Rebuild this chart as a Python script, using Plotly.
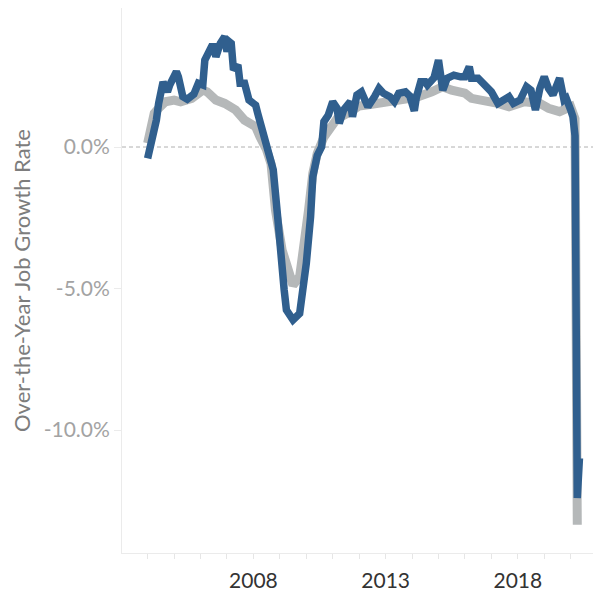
import plotly.graph_objects as go

# ---- data (monthly, first of month) ----
state_dates = [
    "2004-01", "2004-02", "2004-04", "2004-05", "2004-06", "2004-07", "2004-08", "2004-10", "2004-11",
    "2005-02", "2005-03", "2005-05", "2005-07", "2005-10", "2005-12",
    "2006-02", "2006-03", "2006-06", "2006-07", "2006-08", "2006-10", "2006-12",
    "2007-01", "2007-02", "2007-03", "2007-04", "2007-06", "2007-07", "2007-09", "2007-11",
    "2008-02", "2008-03", "2008-05", "2008-07", "2008-10", "2008-12",
    "2009-01", "2009-03", "2009-04", "2009-07", "2009-10", "2009-11",
    "2010-01", "2010-03", "2010-04", "2010-06", "2010-08", "2010-09", "2010-11",
    "2011-01", "2011-03", "2011-04", "2011-06", "2011-09", "2011-10", "2011-12",
    "2012-02", "2012-03", "2012-05", "2012-08", "2012-10", "2012-12",
    "2013-03", "2013-05", "2013-07", "2013-10", "2013-12",
    "2014-02", "2014-03", "2014-05", "2014-07", "2014-08", "2014-11",
    "2015-01", "2015-03", "2015-05", "2015-08", "2015-11",
    "2016-01", "2016-03", "2016-04", "2016-07", "2016-09",
    "2017-01", "2017-04", "2017-06", "2017-09", "2017-11",
    "2018-02", "2018-05", "2018-07", "2018-09", "2018-11",
    "2019-01", "2019-03", "2019-05", "2019-08", "2019-10", "2019-11",
    "2020-01", "2020-02", "2020-03", "2020-04", "2020-05",
]
state_growth = [
    -0.40, -0.05, 0.36, 0.95, 1.54, 2.13, 2.30, 1.95, 2.19,
    2.66, 2.48, 1.78, 1.69, 1.87, 2.25,
    2.19, 3.07, 3.54, 3.54, 3.19, 3.66, 3.90,
    3.37, 3.72, 3.66, 2.72, 2.90, 2.25, 2.25, 1.66,
    1.48, 1.19, 0.60, -0.10, -0.80, -2.46,
    -3.64, -5.05, -5.76, -6.11, -5.88, -5.29,
    -4.11, -2.46, -1.05, -0.30, 0.01, 0.90, 1.13,
    1.60, 1.37, 0.84, 1.31, 1.60, 1.07, 1.84,
    1.95, 1.78, 1.42, 1.78, 2.07, 1.90,
    1.78, 1.60, 1.90, 1.95, 1.80,
    1.28, 1.75, 2.31, 2.31, 2.19, 2.45,
    3.07, 2.01, 2.43, 2.54, 2.48,
    2.48, 2.84, 2.43, 2.43, 2.25,
    1.95, 1.54, 1.66, 1.78, 1.54,
    1.66, 2.13, 2.01, 1.31, 2.07,
    2.48, 2.07, 1.84, 2.43, 1.66, 1.72,
    1.31, 1.07, 0.40, -12.40, -11.00,
]

us_dates = [
    "2004-01", "2004-03", "2004-04", "2004-06", "2004-09",
    "2005-01", "2005-04", "2005-09",
    "2006-02", "2006-04", "2006-08", "2006-12",
    "2007-05", "2007-09",
    "2008-02", "2008-04", "2008-07", "2008-09", "2008-11",
    "2009-02", "2009-05", "2009-07", "2009-10", "2009-12",
    "2010-02", "2010-04", "2010-06", "2010-09", "2010-11",
    "2011-03", "2011-08", "2012-01", "2012-06", "2013-01", "2013-08",
    "2014-03", "2014-10", "2015-03", "2015-07",
    "2016-01", "2016-04", "2016-09", "2017-04", "2017-09",
    "2018-04", "2018-11", "2019-03", "2019-08",
    "2020-01", "2020-03", "2020-04",
]
us_growth = [
    0.13, 0.84, 1.19, 1.37, 1.60,
    1.66, 1.60, 1.72,
    2.01, 1.95, 1.66, 1.54,
    1.31, 0.95,
    0.72, 0.36, -0.10, -0.60, -2.23,
    -3.64, -4.46, -4.88, -4.58, -3.64,
    -2.23, -0.93, -0.22, 0.35, 0.60,
    1.00, 1.20, 1.45, 1.50, 1.60, 1.65,
    1.75, 1.95, 2.13, 2.01,
    1.90, 1.72, 1.66, 1.54, 1.42,
    1.60, 1.54, 1.37, 1.25,
    1.42, 1.00, -13.35,
]

y_tick_values = [0, -5, -10]
y_tick_labels = ["0.0%", "-5.0%", "-10.0%"]
x_tick_values = ["2008-01-01", "2013-01-01", "2018-01-01"]
x_tick_labels = ["2008", "2013", "2018"]

assert len(state_dates) == len(state_growth)
assert len(us_dates) == len(us_growth)

FONT = "Lato"

fig = go.Figure()
fig.add_trace(go.Scatter(
    x=[d + "-01" for d in us_dates], y=us_growth, mode="lines",
    line=dict(color="#b5b8b9", width=9), name="U.S.", showlegend=False,
))
fig.add_trace(go.Scatter(
    x=[d + "-01" for d in state_dates], y=state_growth, mode="lines",
    line=dict(color="#305f8e", width=7.5), name="State", showlegend=False,
))

fig.add_hline(y=0, line=dict(color="#b0b0b0", width=1, dash="4px,3px"), layer="below")

# The page body adds an 8px margin, so the figure is 8px smaller than the window.
fig.update_layout(
    width=593, height=584,
    margin=dict(l=114, r=1, t=0, b=39),
    paper_bgcolor="white", plot_bgcolor="white",
    font=dict(family=FONT),
    xaxis=dict(
        type="date",
        range=["2003-01-12", "2021-02-09"],
        tickmode="array", tickvals=x_tick_values, ticktext=x_tick_labels,
        ticks="outside", ticklen=5, tickcolor="#e6e6e6", tickwidth=1,
        minor=dict(ticks="outside", ticklen=5, tickcolor="#e6e6e6",
                   tick0="2004-01-01", dtick="M12"),
        showline=True, linecolor="#ebebeb", linewidth=1,
        showgrid=False, zeroline=False, automargin=False,
        tickfont=dict(family=FONT, size=21, color="#333333"),
        ticklabelstandoff=4,
    ),
    yaxis=dict(
        range=[-14.346, 4.912],
        tickmode="array", tickvals=y_tick_values, ticktext=y_tick_labels,
        ticks="outside", ticklen=7, tickcolor="#ebebeb",
        showline=True, linecolor="#ebebeb", linewidth=1,
        showgrid=False, zeroline=False, automargin=False,
        tickfont=dict(family=FONT, size=21, color="#a3a3a3"),
        title=dict(text="Over-the-Year Job Growth Rate",
                   font=dict(family=FONT, size=22, color="#7d7d7d"),
                   standoff=16),
    ),
)

fig.write_html("out.html")
